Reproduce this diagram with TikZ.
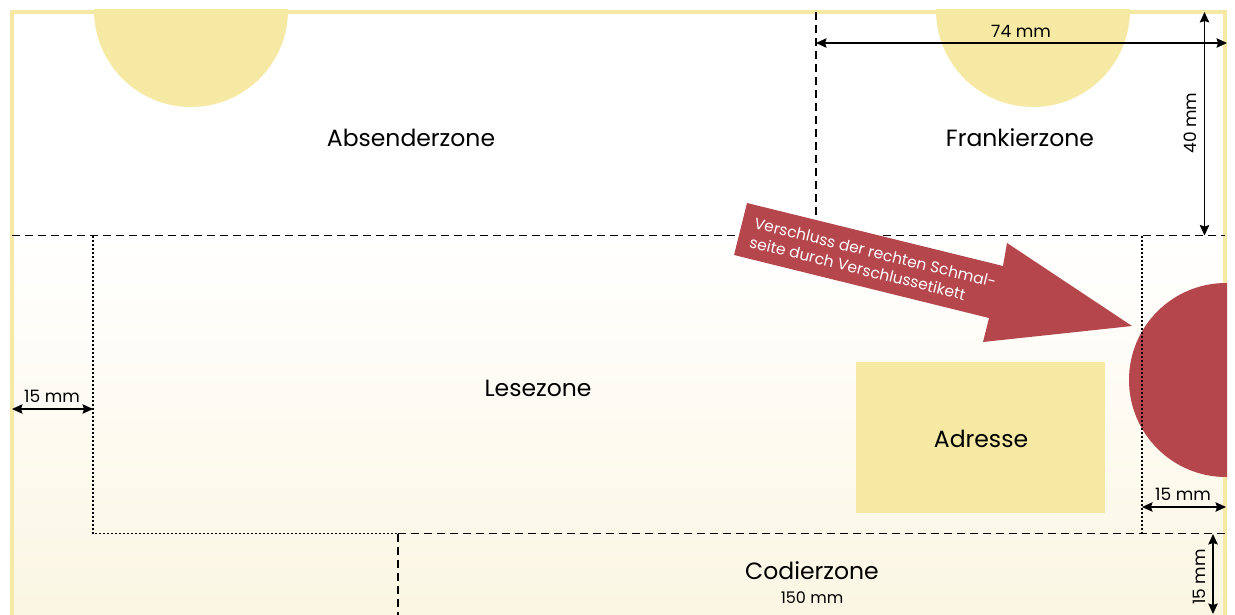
\documentclass[tikz,border=0pt]{standalone}
\usepackage{fontspec}
\setmainfont{Poppins}
\usetikzlibrary{arrows.meta}
\definecolor{envyellow}{HTML}{F6E9A4}
\definecolor{envred}{HTML}{B5464C}
\definecolor{envcream}{HTML}{FBF6E3}
\begin{document}
\begin{tikzpicture}[x=1pt,y=-1pt,
  zonelabel/.style={font=\fontsize{23.5}{28}\selectfont, inner sep=0pt},
  dimlabel/.style={font=\fontsize{17}{20}\selectfont, inner sep=0pt},
  smalllabel/.style={font=\fontsize{16}{19}\selectfont, inner sep=0pt},
  arrowtext/.style={font=\fontsize{15.5}{19.5}\selectfont, text=white, align=left, inner sep=0pt},
  dimline/.style={line width=1.3pt, {Stealth[length=10.5pt,width=9.5pt,inset=1.5pt]}-{Stealth[length=10.5pt,width=9.5pt,inset=1.5pt]}},
  zoneline/.style={line width=1.2pt, dash pattern=on 8pt off 5pt},
  readline/.style={line width=1.2pt, dash pattern=on 2pt off 2pt}]
\useasboundingbox (0,0) rectangle (1235,615);
\fill[white] (0,0) rectangle (1235,615);
\begin{scope}
  \clip (10,10) rectangle (1227,615);
  \shade[top color=white, bottom color=envcream] (10,236) rectangle (1227,615);
  % top semicircles
  \fill[envyellow] (191,10) circle[radius=97];
  \fill[envyellow] (1033,10) circle[radius=97];
\end{scope}
% envelope border
\draw[envyellow, line width=4pt] (12,620) -- (12,12) -- (1225,12) -- (1225,620);
\begin{scope}
  \clip (10,10) rectangle (1227,615);
  % closure label (red circle)
  \fill[envred] (1226,380) circle[radius=97];
\end{scope}
% zone lines
\coordinate (hl) at (12,235.5);
\coordinate (hr) at (1225,235.5);
\coordinate (vt) at (816,12);
\coordinate (vb) at (816,235.5);
\draw[zoneline] (hl) -- (hr);
\draw[zoneline] (vt) -- (vb);
\coordinate (rtl) at (93,235.5);
\coordinate (rbl) at (93,533.5);
\coordinate (cbl) at (398,533.5);
\coordinate (cbr) at (1225,533.5);
\coordinate (cbot) at (398,620);
\coordinate (rtr) at (1142,235.5);
\coordinate (rbr) at (1142,533.5);
\draw[readline] (rtl) -- (rbl) -- (cbl);
\draw[readline] (rtr) -- (rbr);
\draw[zoneline] (cbl) -- (cbr);
\draw[zoneline] (cbl) -- (cbot);
% address field
\fill[envyellow] (856,362) rectangle (1105,513);
% big arrow
\fill[envred] (747,203) -- (1003,266) -- (1007,243) -- (1132,326) -- (983,342) -- (989,318) -- (734,255) -- cycle;
\node[arrowtext, rotate=-13.9] (closure) at (873,262) {Verschluss der rechten Schmal-\\seite durch Verschlussetikett};
% zone labels
\node[zonelabel] (absender) at (411,138) {Absenderzone};
\node[zonelabel] (frankier) at (1020,138) {Frankierzone};
\node[zonelabel] (lese) at (538,388) {Lesezone};
\node[zonelabel] (adresse) at (981,439) {Adresse};
\node[zonelabel] (codier) at (812,571) {Codierzone};
\node[smalllabel] (codw) at (812,598) {150 mm};
% dimensions
\coordinate (d74l) at (816,43);
\coordinate (d74r) at (1227,43);
\draw[dimline] (d74l) -- (d74r);
\node[dimlabel] (l74) at (1021,31) {74 mm};
\coordinate (d40t) at (1204.5,12);
\coordinate (d40b) at (1204.5,235.5);
\draw[dimline] (d40t) -- (d40b);
\node[dimlabel, rotate=90] (l40) at (1190,123) {40 mm};
\coordinate (d15al) at (12,409);
\coordinate (d15ar) at (93,409);
\draw[dimline] (d15al) -- (d15ar);
\node[dimlabel] (l15a) at (52,396) {15 mm};
\coordinate (d15bl) at (1142,507);
\coordinate (d15br) at (1226,507);
\draw[dimline] (d15bl) -- (d15br);
\node[dimlabel] (l15b) at (1183,494) {15 mm};
\coordinate (d15ct) at (1213,534);
\coordinate (d15cb) at (1213,614);
\draw[dimline] (d15ct) -- (d15cb);
\node[dimlabel, rotate=90] (l15c) at (1199,577) {15 mm};
\end{tikzpicture}
\end{document}
